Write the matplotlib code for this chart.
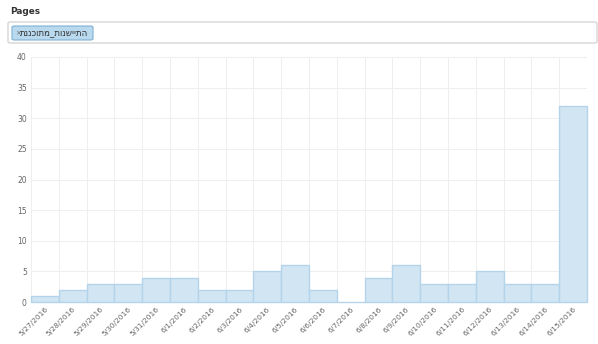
import matplotlib
matplotlib.use("Agg")
import matplotlib.pyplot as plt
from matplotlib.patches import FancyBboxPatch
import numpy as np

dates = ["5/27/2016", "5/28/2016", "5/29/2016", "5/30/2016", "5/31/2016", "6/1/2016",
         "6/2/2016", "6/3/2016", "6/4/2016", "6/5/2016", "6/6/2016", "6/7/2016",
         "6/8/2016", "6/9/2016", "6/10/2016", "6/11/2016", "6/12/2016", "6/13/2016",
         "6/14/2016", "6/15/2016"]
views = [1, 2, 3, 3, 4, 4, 2, 2, 5, 6, 2, 0, 4, 6, 3, 3, 5, 3, 3, 32]
yticks = [0, 5, 10, 15, 20, 25, 30, 35, 40]
title = "Pages"
tag = "התיישנות_מתוכננת"

plt.rcParams['font.family'] = ['DejaVu Sans']
W, H = 598, 344
fig = plt.figure(figsize=(W / 100, H / 100), dpi=100)
fig.patch.set_facecolor("white")

def fx(x):
    return x / W

def fy(y):
    return 1 - y / H

# Title
fig.text(fx(10), fy(12), title, fontsize=6.4, fontweight="bold", color="#333333",
         ha="left", va="center")

# Input box
box = FancyBboxPatch((fx(8), fy(43)), fx(589), (21) / H,
                     boxstyle="round,pad=0,rounding_size=0.004",
                     transform=fig.transFigure, facecolor="white",
                     edgecolor="#cccccc", linewidth=0.8)
fig.patches.append(box)
chip = FancyBboxPatch((fx(12), fy(40)), fx(81), 14 / H,
                      boxstyle="round,pad=0,rounding_size=0.004",
                      transform=fig.transFigure, facecolor="#b9d9ee",
                      edgecolor="#7fb1d3", linewidth=0.8)
fig.patches.append(chip)
fig.text(fx(15.5), fy(33), "×", fontsize=5, color="#666666", ha="left", va="center")
# matplotlib lays text out left to right, so the Hebrew is reversed for display
fig.text(fx(20), fy(33), tag[::-1], fontsize=6.2, color="#333333", ha="left", va="center")

# Chart axes
ax = fig.add_axes([fx(31), 42 / H, 556 / W, 245 / H])
ax.set_facecolor("white")
x = np.arange(len(dates))
bars = ax.bar(x, views, width=1.0, color="#d2e5f2", edgecolor="#b3d4ea",
              linewidth=1.0, zorder=2)
for b in bars:
    b.set_clip_on(False)
ax.set_xlim(-0.5, len(dates) - 0.5)
ax.set_ylim(0, 40)
ax.set_yticks(yticks)
ax.set_yticklabels([str(v) for v in yticks], fontsize=5.5, color="#666666")
ax.set_xticks(x)
ax.set_xticklabels(dates, rotation=45, ha="right", rotation_mode="anchor",
                   fontsize=5.4, color="#666666")
ax.tick_params(axis="both", length=0, pad=3)
ax.set_xticks(np.arange(-0.5, len(dates) + 0.5, 1.0), minor=True)
ax.tick_params(axis="x", which="minor", length=0)
ax.grid(True, axis="y", color="#eeeeee", linewidth=0.7, zorder=0)
ax.grid(True, axis="x", which="minor", color="#eeeeee", linewidth=0.7, zorder=0)
ax.grid(False, axis="x", which="major")
for s in ax.spines.values():
    s.set_visible(False)
ax.set_axisbelow(True)

fig.savefig("out.png", dpi=100, facecolor="white")
